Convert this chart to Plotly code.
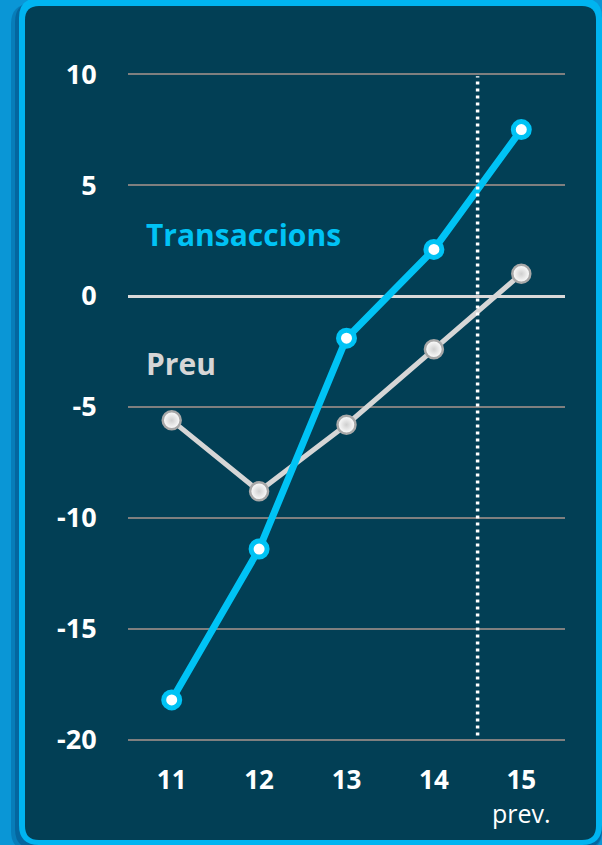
import plotly.graph_objects as go

# ---- data ----
years = [11, 12, 13, 14, 15]
tick_labels = ["<b>11</b>", "<b>12</b>", "<b>13</b>", "<b>14</b>",
               "<b>15</b><br><span style='font-size:25px'>prev.</span>"]
transaccions = [-18.2, -11.4, -1.9, 2.1, 7.5]
preu = [-5.6, -8.8, -5.8, -2.4, 1.0]
y_ticks = [10, 5, 0, -5, -10, -15, -20]
forecast_split = 14.5

W, H = 602, 845
L, R = 128, 37
Y_RANGE = [-20.5, 10.5]
T, B = 63, 94

plot_w = W - L - R
plot_h = H - T - B

def px(x):
    return (x - L) / plot_w

def py(y):
    return (H - B - y) / plot_h

def rounded_rect(x0, y0, x1, y1, r):
    return ("M {a},{b} L {c},{b} Q {d},{b} {d},{e} L {d},{f} Q {d},{g} {c},{g} "
            "L {a},{g} Q {h},{g} {h},{f} L {h},{e} Q {h},{b} {a},{b} Z").format(
        a=px(x0 + r), b=py(y0), c=px(x1 - r), d=px(x1), e=py(y0 + r),
        f=py(y1 - r), g=py(y1), h=px(x0))

CYAN = "#00c3f5"
GRAY = "#d6d6d6"
PANEL = "#023f55"
BORDER = "#00b4f0"
FONT = "Open Sans"

fig = go.Figure()

fig.add_trace(go.Scatter(
    x=years, y=preu, mode="lines+markers", name="Preu",
    line=dict(color=GRAY, width=5),
    marker=dict(size=18, color="white", symbol="circle",
                gradient=dict(type="radial", color="#cfcfcf"),
                line=dict(color="#a8a8a8", width=2.5)),
    hoverinfo="skip"))

fig.add_trace(go.Scatter(
    x=years, y=transaccions, mode="lines+markers", name="Transaccions",
    line=dict(color=CYAN, width=7),
    marker=dict(size=16, color="white", line=dict(color=CYAN, width=5)),
    hoverinfo="skip"))

shapes = [
    # soft shadow
    dict(type="path", xref="paper", yref="paper", layer="below",
         path=rounded_rect(11, 4, 602, 851, 20),
         fillcolor="rgba(0,50,100,0.25)", line=dict(width=0)),
    dict(type="path", xref="paper", yref="paper", layer="below",
         path=rounded_rect(15, 2, 602, 849, 20),
         fillcolor="rgba(0,50,100,0.3)", line=dict(width=0)),
    # panel border
    dict(type="path", xref="paper", yref="paper", layer="below",
         path=rounded_rect(19, -2, 602, 845, 20),
         fillcolor=BORDER, line=dict(width=0)),
    # panel
    dict(type="path", xref="paper", yref="paper", layer="below",
         path=rounded_rect(25, 6, 596, 840, 14),
         fillcolor=PANEL, line=dict(width=0)),
    # forecast separator
    dict(type="line", xref="x", yref="y", layer="above",
         x0=forecast_split, x1=forecast_split, y0=y_ticks[-1] + 0.2, y1=y_ticks[0] - 0.1,
         line=dict(color="white", width=3.5, dash="3px,4px")),
]

annotations = [
    dict(xref="paper", yref="paper", x=px(144), y=py(234), xanchor="left", yanchor="middle",
         text="<b>Transaccions</b>", showarrow=False,
         font=dict(family=FONT, size=30, color=CYAN)),
    dict(xref="paper", yref="paper", x=px(144), y=py(363), xanchor="left", yanchor="middle",
         text="<b>Preu</b>", showarrow=False,
         font=dict(family=FONT, size=30, color=GRAY)),
]

fig.update_layout(
    width=W, height=H,
    margin=dict(l=L, r=R, t=T, b=B, pad=0),
    paper_bgcolor="#0a96d6",
    plot_bgcolor="rgba(0,0,0,0)",
    showlegend=False,
    shapes=shapes,
    annotations=annotations,
    font=dict(family=FONT, color="white"),
    xaxis=dict(range=[10.5, 15.5], tickmode="array", tickvals=years, ticktext=tick_labels,
               showgrid=False, zeroline=False, showline=False,
               ticks="outside", ticklen=0, ticklabelstandoff=6,
               tickfont=dict(family=FONT, size=26, color="white"), fixedrange=True),
    yaxis=dict(range=Y_RANGE, tickmode="array", tickvals=y_ticks,
               ticktext=["<b>%d</b>" % v for v in y_ticks],
               showgrid=True, gridcolor="#7f7f7f", gridwidth=2,
               zeroline=True, zerolinecolor="#d9d9d9", zerolinewidth=3,
               showline=False, ticks="outside", ticklen=0, ticklabelstandoff=25,
               tickfont=dict(family=FONT, size=27, color="white"), fixedrange=True),
)

fig.write_html("out.html", config={"displayModeBar": False},
               post_script="document.body.style.margin='0';document.body.style.overflow='hidden';")
